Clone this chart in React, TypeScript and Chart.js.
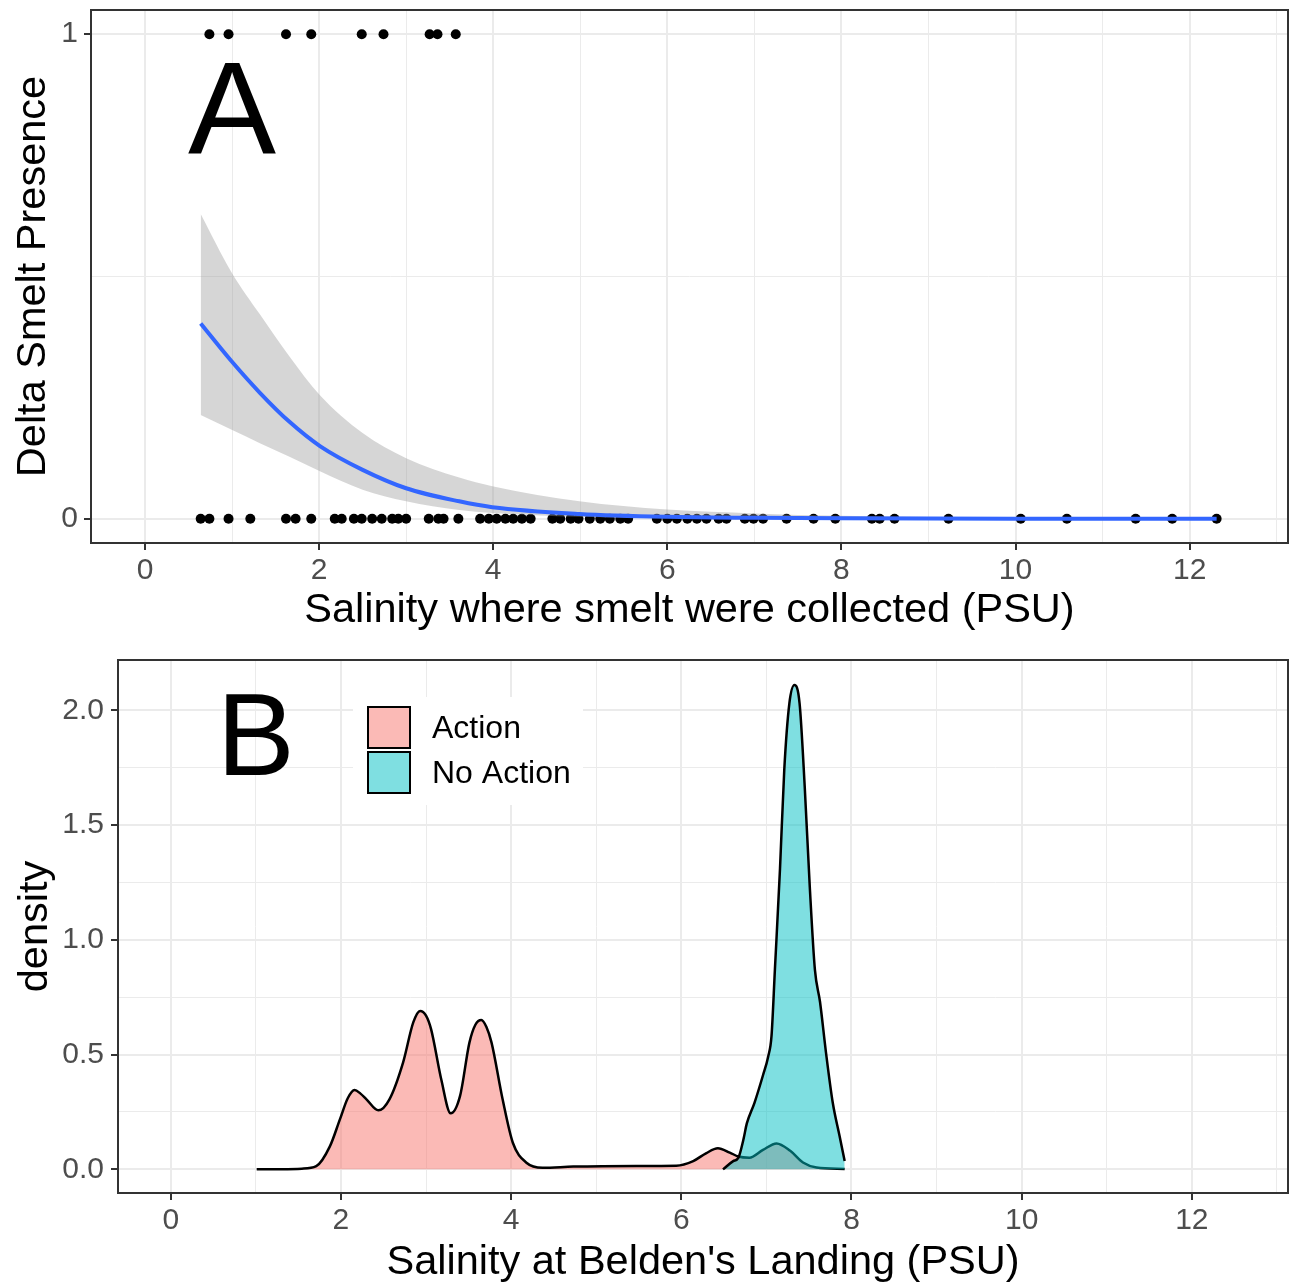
import React, { useEffect, useRef } from 'react';
import { Chart, registerables } from 'chart.js';

Chart.register(...registerables);

const FONT = "'Liberation Sans', Arial, sans-serif";

// ---------- Panel A data ----------
const presenceX = [0.74, 0.96, 1.62, 1.91, 2.49, 2.74, 3.27, 3.36, 3.57];
const absenceX = [
  0.64, 0.74, 0.96, 1.21, 1.62, 1.73, 1.91, 2.18, 2.26, 2.4, 2.49, 2.61, 2.72, 2.84, 2.91, 3.0,
  3.26, 3.37, 3.43, 3.6, 3.85, 3.95, 4.04, 4.14, 4.23, 4.33, 4.43, 4.68, 4.77, 4.89, 4.98, 5.11,
  5.23, 5.34, 5.46, 5.55, 5.88, 6.0, 6.11, 6.23, 6.34, 6.45, 6.59, 6.68, 6.89, 6.99, 7.1, 7.37,
  7.68, 7.93, 8.35, 8.44, 8.61, 9.23, 10.06, 10.59, 11.38, 11.8, 12.31,
];
const fitX = [0.64, 0.99, 1.32, 1.66, 2.01, 2.5, 3.0, 3.61, 3.99, 4.99, 6.0, 7.0, 8.0, 10.0, 12.31];
const fitY = [0.403, 0.326, 0.26, 0.2, 0.15, 0.101, 0.063, 0.036, 0.024, 0.01, 0.004, 0.002, 0.001, 0.0, 0.0];
const upperY = [0.629, 0.51, 0.422, 0.335, 0.255, 0.177, 0.125, 0.085, 0.067, 0.036, 0.019, 0.011, 0.006, 0.002, 0.001];
const lowerY = [0.214, 0.184, 0.156, 0.128, 0.098, 0.06, 0.036, 0.018, 0.012, 0.004, 0.001, 0.0, 0.0, 0.0, 0.0];

// ---------- Panel B data ----------
const actionX = [
  1.01, 1.3, 1.54, 1.71, 1.87, 1.99, 2.08, 2.16, 2.23, 2.3, 2.44, 2.57, 2.73, 2.85, 2.93, 3.0,
  3.06, 3.18, 3.29, 3.4, 3.51, 3.58, 3.65, 3.71, 3.77, 3.9, 4.02, 4.18, 4.37, 4.73, 5.47, 5.94,
  6.14, 6.29, 6.43, 6.57, 6.67, 6.8, 6.96, 7.12, 7.28, 7.43, 7.59, 7.92,
];
const actionY = [
  0.0, 0.001, 0.003, 0.014, 0.1, 0.22, 0.31, 0.346, 0.33, 0.305, 0.257, 0.305, 0.465, 0.64, 0.69, 0.67,
  0.61, 0.39, 0.244, 0.32, 0.552, 0.63, 0.651, 0.62, 0.552, 0.305, 0.116, 0.029, 0.007, 0.012, 0.015, 0.016,
  0.036, 0.07, 0.092, 0.073, 0.056, 0.051, 0.085, 0.113, 0.081, 0.03, 0.008, 0.002,
];
const noActionX = [
  6.49, 6.61, 6.67, 6.73, 6.77, 6.86, 6.96, 7.02, 7.06, 7.1, 7.16, 7.21, 7.27, 7.33, 7.39, 7.45,
  7.51, 7.57, 7.63, 7.7, 7.78, 7.86, 7.92,
];
const noActionY = [
  0.0, 0.036, 0.05, 0.13, 0.2, 0.29, 0.41, 0.49, 0.58, 0.87, 1.31, 1.74, 2.03, 2.11, 2.03, 1.67,
  1.23, 0.87, 0.73, 0.51, 0.29, 0.145, 0.036,
];

// ---------- Axes ----------
const xMajor = [0, 2, 4, 6, 8, 10, 12];
const xMinor = [1, 3, 5, 7, 9, 11, 13];
const yMajorA = [0, 1];
const yMinorA = [0.5];
const yMajorB = [0, 0.5, 1, 1.5, 2];
const yMinorB = [0.25, 0.75, 1.25, 1.75];
const seriesLabels = ['Action', 'No Action'];
const seriesFills = ['rgba(248,118,109,0.5)', 'rgba(0,191,196,0.5)'];

const pts = (xs: number[], ys: number[]) => xs.map((x, i) => ({ x, y: ys[i] }));

function makeScale(o: {
  min: number; max: number; major: number[]; minor: number[];
  fmt: (v: number) => string; title: string; axis: 'x' | 'y';
  size: number; tickPadding: number; titlePadding: any;
}) {
  const isMajor = (v: number) => o.major.some((m) => Math.abs(m - v) < 1e-9);
  const tv = (ctx: any) => (ctx && ctx.tick ? ctx.tick.value : 0);
  return {
    type: 'linear',
    position: o.axis === 'x' ? 'bottom' : 'left',
    min: o.min,
    max: o.max,
    afterBuildTicks: (scale: any) => {
      scale.ticks = [...o.major, ...o.minor].sort((a, b) => a - b).map((v) => ({ value: v }));
    },
    afterFit: (scale: any) => {
      if (o.axis === 'x') scale.height = o.size;
      else scale.width = o.size;
      scale.paddingTop = 0;
      scale.paddingBottom = 0;
      scale.paddingLeft = 0;
      scale.paddingRight = 0;
    },
    ticks: {
      autoSkip: false,
      maxRotation: 0,
      minRotation: 0,
      padding: o.tickPadding,
      font: { family: FONT, size: 30 },
      color: '#4D4D4D',
      callback: (v: any) => (isMajor(Number(v)) ? o.fmt(Number(v)) : ''),
    },
    grid: {
      color: '#EBEBEB',
      lineWidth: (ctx: any) => (isMajor(tv(ctx)) ? 2 : 1),
      tickColor: (ctx: any) => (isMajor(tv(ctx)) ? '#333333' : 'rgba(0,0,0,0)'),
      tickLength: 7,
      tickWidth: 2,
      drawTicks: true,
    },
    border: { display: false },
    title: {
      display: true,
      text: o.title,
      font: { family: FONT, size: 41.5, lineHeight: 1.0 },
      color: '#000000',
      padding: o.titlePadding,
    },
  };
}

const framePlugin = {
  id: 'frame',
  afterDatasetsDraw(chart: any) {
    const { ctx, chartArea: a } = chart;
    ctx.save();
    ctx.strokeStyle = '#333333';
    ctx.lineWidth = 2;
    ctx.strokeRect(a.left, a.top, a.right - a.left, a.bottom - a.top);
    ctx.restore();
  },
};

function letterPlugin(letter: string, x: number, y: number, size: number) {
  return {
    id: 'letter' + letter,
    afterDraw(chart: any) {
      const { ctx } = chart;
      const px = chart.scales.x.getPixelForValue(x);
      const py = chart.scales.y.getPixelForValue(y);
      ctx.save();
      ctx.font = `${size}px ${FONT}`;
      ctx.fillStyle = '#000000';
      ctx.textAlign = 'center';
      ctx.textBaseline = 'alphabetic';
      ctx.fillText(letter, px, py + size * 0.716 / 2);
      ctx.restore();
    },
  };
}

const legendPlugin = {
  id: 'insideLegend',
  afterDraw(chart: any) {
    const { ctx, chartArea: a } = chart;
    const left = a.left + 235;
    const top = a.top + 37;
    ctx.save();
    ctx.fillStyle = '#FFFFFF';
    ctx.fillRect(left, top, 230, 108);
    const keyX = left + 15;
    const keyYs = [top + 10, top + 55];
    seriesLabels.forEach((lab, i) => {
      ctx.fillStyle = '#FFFFFF';
      ctx.fillRect(keyX, keyYs[i], 42, 41);
      ctx.fillStyle = seriesFills[i];
      ctx.fillRect(keyX, keyYs[i], 42, 41);
      ctx.strokeStyle = '#000000';
      ctx.lineWidth = 2;
      ctx.strokeRect(keyX, keyYs[i], 42, 41);
      ctx.fillStyle = '#000000';
      ctx.font = `32px ${FONT}`;
      ctx.textAlign = 'left';
      ctx.textBaseline = 'middle';
      ctx.fillText(lab, keyX + 64, keyYs[i] + 22);
    });
    ctx.restore();
  },
};

export default function App() {
  const refA = useRef<HTMLCanvasElement>(null);
  const refB = useRef<HTMLCanvasElement>(null);

  useEffect(() => {
    const chartA = new Chart(refA.current as HTMLCanvasElement, {
      type: 'line',
      data: {
        datasets: [
          {
            label: 'upper',
            data: pts(fitX, upperY),
            borderWidth: 0,
            pointRadius: 0,
            backgroundColor: 'rgba(153,153,153,0.4)',
            fill: '+1',
            cubicInterpolationMode: 'monotone',
            order: 1,
          },
          {
            label: 'lower',
            data: pts(fitX, lowerY),
            borderWidth: 0,
            pointRadius: 0,
            fill: false,
            cubicInterpolationMode: 'monotone',
            order: 1,
          },
          {
            label: 'fit',
            data: pts(fitX, fitY),
            borderColor: '#3366FF',
            borderWidth: 4,
            pointRadius: 0,
            fill: false,
            cubicInterpolationMode: 'monotone',
            order: 0,
          },
          {
            label: 'present',
            data: presenceX.map((x) => ({ x, y: 1 })),
            showLine: false,
            pointRadius: 5,
            pointBorderWidth: 0,
            pointBackgroundColor: '#000000',
            order: 3,
          },
          {
            label: 'absent',
            data: absenceX.map((x) => ({ x, y: 0 })),
            showLine: false,
            pointRadius: 5,
            pointBorderWidth: 0,
            pointBackgroundColor: '#000000',
            order: 3,
          },
        ] as any,
      },
      options: {
        animation: false,
        responsive: false,
        events: [],
        layout: { padding: { left: 0, right: 5, top: 10, bottom: 0 } },
        plugins: { legend: { display: false }, tooltip: { enabled: false } },
        scales: {
          x: makeScale({
            min: -0.62, max: 13.13, major: xMajor, minor: xMinor, fmt: (v) => String(v),
            title: 'Salinity where smelt were collected (PSU)', axis: 'x', size: 97,
            tickPadding: 3, titlePadding: { top: 0, bottom: 9 },
          }),
          y: makeScale({
            min: -0.05, max: 1.05, major: yMajorA, minor: yMinorA, fmt: (v) => String(v),
            title: 'Delta Smelt Presence', axis: 'y', size: 91,
            tickPadding: 6, titlePadding: { top: 13, bottom: 0 },
          }),
        } as any,
      },
      plugins: [framePlugin, letterPlugin('A', 1.0, 0.85, 132)],
    });

    const chartB = new Chart(refB.current as HTMLCanvasElement, {
      type: 'line',
      data: {
        datasets: [
          {
            label: seriesLabels[0],
            data: pts(actionX, actionY),
            borderColor: '#000000',
            borderWidth: 2.5,
            backgroundColor: seriesFills[0],
            pointRadius: 0,
            fill: 'origin',
            cubicInterpolationMode: 'monotone',
            order: 1,
          },
          {
            label: seriesLabels[1],
            data: pts(noActionX, noActionY),
            borderColor: '#000000',
            borderWidth: 2.5,
            backgroundColor: seriesFills[1],
            pointRadius: 0,
            fill: 'origin',
            cubicInterpolationMode: 'monotone',
            order: 0,
          },
        ] as any,
      },
      options: {
        animation: false,
        responsive: false,
        events: [],
        layout: { padding: { left: 0, right: 5, top: 20, bottom: 0 } },
        plugins: { legend: { display: false }, tooltip: { enabled: false } },
        scales: {
          x: makeScale({
            min: -0.62, max: 13.13, major: xMajor, minor: xMinor, fmt: (v) => String(v),
            title: "Salinity at Belden's Landing (PSU)", axis: 'x', size: 90,
            tickPadding: 3, titlePadding: { top: 0, bottom: 0 },
          }),
          y: makeScale({
            min: -0.103, max: 2.219, major: yMajorB, minor: yMinorB, fmt: (v) => v.toFixed(1),
            title: 'density', axis: 'y', size: 118,
            tickPadding: 7, titlePadding: { top: 15, bottom: 0 },
          }),
        } as any,
      },
      plugins: [framePlugin, legendPlugin, letterPlugin('B', 1.0, 1.9, 117)],
    });

    return () => {
      chartA.destroy();
      chartB.destroy();
    };
  }, []);

  return (
    <div style={{ position: 'absolute', left: 0, top: 0, width: 1293, height: 1283, background: '#FFFFFF' }}>
      <canvas ref={refA} width={1293} height={640} style={{ position: 'absolute', left: 0, top: 0, display: 'block' }} />
      <canvas ref={refB} width={1293} height={643} style={{ position: 'absolute', left: 0, top: 640, display: 'block' }} />
    </div>
  );
}
